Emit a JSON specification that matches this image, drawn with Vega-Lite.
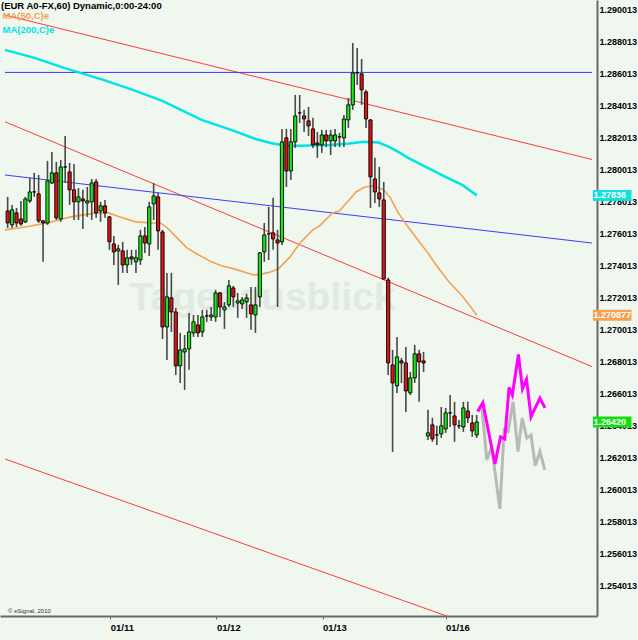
{
  "$schema": "https://vega.github.io/schema/vega-lite/v6.json",
  "width": 597,
  "height": 616,
  "autosize": {"type": "none"},
  "padding": {"left": 0, "top": 0, "right": 41, "bottom": 24},
  "background": "#eff7ef",
  "config": {
    "view": {"stroke": null},
    "font": "Liberation Sans",
    "axis": {"labelOverlap": false, "labelSeparation": 0, "labelBound": false}
  },
  "resolve": {"axis": {"x": "independent", "y": "independent"}},
  "datasets": {
    "candles": [
      {"i":0,"o":1.27739,"h":1.27827,"l":1.27633,"c":1.27664},
      {"i":1,"o":1.27652,"h":1.27777,"l":1.27633,"c":1.27746},
      {"i":2,"o":1.27727,"h":1.27758,"l":1.27639,"c":1.27664},
      {"i":3,"o":1.27689,"h":1.27802,"l":1.27646,"c":1.27658},
      {"i":4,"o":1.27671,"h":1.27827,"l":1.27664,"c":1.27814},
      {"i":5,"o":1.27802,"h":1.27946,"l":1.27789,"c":1.27858},
      {"i":6,"o":1.27858,"h":1.27977,"l":1.27827,"c":1.27858},
      {"i":7,"o":1.27846,"h":1.27964,"l":1.27664,"c":1.27677},
      {"i":8,"o":1.27677,"h":1.27683,"l":1.27421,"c":1.27664},
      {"i":9,"o":1.27664,"h":1.28052,"l":1.27652,"c":1.27927},
      {"i":10,"o":1.27914,"h":1.28108,"l":1.27908,"c":1.27977},
      {"i":11,"o":1.27977,"h":1.28046,"l":1.27683,"c":1.27696},
      {"i":12,"o":1.27689,"h":1.28058,"l":1.27671,"c":1.28014},
      {"i":13,"o":1.28014,"h":1.28208,"l":1.27914,"c":1.28014},
      {"i":14,"o":1.27983,"h":1.28039,"l":1.27777,"c":1.27871},
      {"i":15,"o":1.27871,"h":1.28033,"l":1.27683,"c":1.27796},
      {"i":16,"o":1.27796,"h":1.27883,"l":1.27683,"c":1.27827},
      {"i":17,"o":1.27814,"h":1.27871,"l":1.27627,"c":1.27802},
      {"i":18,"o":1.27789,"h":1.27889,"l":1.27702,"c":1.27802},
      {"i":19,"o":1.27796,"h":1.27939,"l":1.27683,"c":1.27914},
      {"i":20,"o":1.27921,"h":1.27939,"l":1.27696,"c":1.27727},
      {"i":21,"o":1.27739,"h":1.27796,"l":1.27671,"c":1.27771},
      {"i":22,"o":1.27771,"h":1.27808,"l":1.27696,"c":1.27727},
      {"i":23,"o":1.27702,"h":1.27708,"l":1.27496,"c":1.27546},
      {"i":24,"o":1.27533,"h":1.27583,"l":1.27402,"c":1.27483},
      {"i":25,"o":1.27489,"h":1.27527,"l":1.27277,"c":1.27502},
      {"i":26,"o":1.27489,"h":1.27546,"l":1.27352,"c":1.27402},
      {"i":27,"o":1.27402,"h":1.27496,"l":1.27352,"c":1.27446},
      {"i":28,"o":1.27452,"h":1.27496,"l":1.27402,"c":1.27439},
      {"i":29,"o":1.27421,"h":1.27496,"l":1.27352,"c":1.27446},
      {"i":30,"o":1.27433,"h":1.27621,"l":1.27402,"c":1.27583},
      {"i":31,"o":1.27583,"h":1.27639,"l":1.27477,"c":1.27539},
      {"i":32,"o":1.27533,"h":1.27796,"l":1.27458,"c":1.27764},
      {"i":33,"o":1.27783,"h":1.27914,"l":1.27683,"c":1.27833},
      {"i":34,"o":1.27827,"h":1.27852,"l":1.27496,"c":1.27614},
      {"i":35,"o":1.27608,"h":1.27621,"l":1.26939,"c":1.27014},
      {"i":36,"o":1.27014,"h":1.27352,"l":1.26808,"c":1.27202},
      {"i":37,"o":1.27196,"h":1.27352,"l":1.26983,"c":1.27108},
      {"i":38,"o":1.27108,"h":1.27133,"l":1.26714,"c":1.26771},
      {"i":39,"o":1.26771,"h":1.26977,"l":1.26664,"c":1.26871},
      {"i":40,"o":1.26858,"h":1.26964,"l":1.26621,"c":1.26877},
      {"i":41,"o":1.26877,"h":1.27102,"l":1.26746,"c":1.26983},
      {"i":42,"o":1.26977,"h":1.27089,"l":1.26952,"c":1.27046},
      {"i":43,"o":1.27027,"h":1.27089,"l":1.26952,"c":1.26977},
      {"i":44,"o":1.26983,"h":1.27121,"l":1.26952,"c":1.27077},
      {"i":45,"o":1.27083,"h":1.27121,"l":1.27046,"c":1.27083},
      {"i":46,"o":1.27077,"h":1.27139,"l":1.27052,"c":1.27089},
      {"i":47,"o":1.27077,"h":1.27246,"l":1.27046,"c":1.27227},
      {"i":48,"o":1.27227,"h":1.27233,"l":1.27077,"c":1.27139},
      {"i":49,"o":1.27121,"h":1.27171,"l":1.27002,"c":1.27139},
      {"i":50,"o":1.27152,"h":1.27308,"l":1.27139,"c":1.27271},
      {"i":51,"o":1.27258,"h":1.27271,"l":1.27139,"c":1.27202},
      {"i":52,"o":1.27164,"h":1.27227,"l":1.27071,"c":1.27177},
      {"i":53,"o":1.27158,"h":1.27202,"l":1.27127,"c":1.27183},
      {"i":54,"o":1.27171,"h":1.27221,"l":1.27071,"c":1.27196},
      {"i":55,"o":1.27152,"h":1.27264,"l":1.26996,"c":1.27096},
      {"i":56,"o":1.27089,"h":1.27264,"l":1.26977,"c":1.27152},
      {"i":57,"o":1.27202,"h":1.27483,"l":1.27139,"c":1.27477},
      {"i":58,"o":1.27483,"h":1.27664,"l":1.27421,"c":1.27589},
      {"i":59,"o":1.27596,"h":1.27764,"l":1.27433,"c":1.27596},
      {"i":60,"o":1.27602,"h":1.27821,"l":1.27496,"c":1.27564},
      {"i":61,"o":1.27558,"h":1.27621,"l":1.27139,"c":1.27539},
      {"i":62,"o":1.27546,"h":1.28252,"l":1.27527,"c":1.28171},
      {"i":63,"o":1.28196,"h":1.28252,"l":1.27889,"c":1.27989},
      {"i":64,"o":1.27989,"h":1.28252,"l":1.27933,"c":1.28171},
      {"i":65,"o":1.28171,"h":1.28464,"l":1.28133,"c":1.28333},
      {"i":66,"o":1.28352,"h":1.28464,"l":1.28289,"c":1.28352},
      {"i":67,"o":1.28333,"h":1.28371,"l":1.28233,"c":1.28314},
      {"i":68,"o":1.28302,"h":1.28389,"l":1.28208,"c":1.28271},
      {"i":69,"o":1.28252,"h":1.28321,"l":1.28133,"c":1.28152},
      {"i":70,"o":1.28164,"h":1.28233,"l":1.28071,"c":1.28152},
      {"i":71,"o":1.28152,"h":1.28246,"l":1.28102,"c":1.28214},
      {"i":72,"o":1.28214,"h":1.28246,"l":1.28139,"c":1.28177},
      {"i":73,"o":1.28177,"h":1.28246,"l":1.28089,"c":1.28214},
      {"i":74,"o":1.28177,"h":1.28252,"l":1.28139,"c":1.28214},
      {"i":75,"o":1.28202,"h":1.28227,"l":1.28139,"c":1.28202},
      {"i":76,"o":1.28196,"h":1.28339,"l":1.28139,"c":1.28314},
      {"i":77,"o":1.28308,"h":1.28446,"l":1.28258,"c":1.28402},
      {"i":78,"o":1.28402,"h":1.28789,"l":1.28371,"c":1.28602},
      {"i":79,"o":1.28602,"h":1.28758,"l":1.28527,"c":1.28602},
      {"i":80,"o":1.28596,"h":1.28689,"l":1.28402,"c":1.28496},
      {"i":81,"o":1.28483,"h":1.28496,"l":1.28258,"c":1.28314},
      {"i":82,"o":1.28308,"h":1.28314,"l":1.27758,"c":1.27952},
      {"i":83,"o":1.27939,"h":1.28071,"l":1.27789,"c":1.27858},
      {"i":84,"o":1.27852,"h":1.28014,"l":1.27764,"c":1.27814},
      {"i":85,"o":1.27808,"h":1.27921,"l":1.27308,"c":1.27314},
      {"i":86,"o":1.27308,"h":1.27321,"l":1.26714,"c":1.26789},
      {"i":87,"o":1.26777,"h":1.26871,"l":1.26233,"c":1.26664},
      {"i":88,"o":1.26646,"h":1.26952,"l":1.26602,"c":1.26827},
      {"i":89,"o":1.26802,"h":1.26821,"l":1.26664,"c":1.26789},
      {"i":90,"o":1.26789,"h":1.26889,"l":1.26483,"c":1.26614},
      {"i":91,"o":1.26602,"h":1.26733,"l":1.26589,"c":1.26696},
      {"i":92,"o":1.26696,"h":1.26902,"l":1.26664,"c":1.26846},
      {"i":93,"o":1.26846,"h":1.26871,"l":1.26546,"c":1.26796},
      {"i":94,"o":1.26802,"h":1.26858,"l":1.26733,"c":1.26789},
      {"i":95,"o":1.26333,"h":1.26496,"l":1.26308,"c":1.26352},
      {"i":96,"o":1.26402,"h":1.26446,"l":1.26296,"c":1.26314},
      {"i":97,"o":1.26339,"h":1.26396,"l":1.26277,"c":1.26339},
      {"i":98,"o":1.26346,"h":1.26514,"l":1.26321,"c":1.26396},
      {"i":99,"o":1.26377,"h":1.26508,"l":1.26352,"c":1.26477},
      {"i":100,"o":1.26477,"h":1.26589,"l":1.26389,"c":1.26477},
      {"i":101,"o":1.26458,"h":1.26546,"l":1.26296,"c":1.26402},
      {"i":102,"o":1.26396,"h":1.26433,"l":1.26377,"c":1.26396},
      {"i":103,"o":1.26389,"h":1.26546,"l":1.26358,"c":1.26508},
      {"i":104,"o":1.26489,"h":1.26546,"l":1.26414,"c":1.26446},
      {"i":105,"o":1.26414,"h":1.26464,"l":1.26327,"c":1.26364},
      {"i":106,"o":1.26339,"h":1.26464,"l":1.26321,"c":1.2642}
    ],
    "ma50": [
      {"s":"MA(50,C)e","i":-0.6,"v":1.27621},{"s":"MA(50,C)e","i":3.84,"v":1.27639},
      {"s":"MA(50,C)e","i":8.96,"v":1.27664},{"s":"MA(50,C)e","i":14.29,"v":1.27702},
      {"s":"MA(50,C)e","i":20.07,"v":1.27727},{"s":"MA(50,C)e","i":22.73,"v":1.27727},
      {"s":"MA(50,C)e","i":25.4,"v":1.27702},{"s":"MA(50,C)e","i":28.96,"v":1.27671},
      {"s":"MA(50,C)e","i":32.73,"v":1.27664},{"s":"MA(50,C)e","i":34.51,"v":1.27664},
      {"s":"MA(50,C)e","i":36.07,"v":1.27633},{"s":"MA(50,C)e","i":38.29,"v":1.27571},
      {"s":"MA(50,C)e","i":40.51,"v":1.27508},{"s":"MA(50,C)e","i":43.18,"v":1.27464},
      {"s":"MA(50,C)e","i":46.07,"v":1.27421},{"s":"MA(50,C)e","i":48.29,"v":1.27396},
      {"s":"MA(50,C)e","i":51.18,"v":1.27377},{"s":"MA(50,C)e","i":55.62,"v":1.27339},
      {"s":"MA(50,C)e","i":57.62,"v":1.27346},{"s":"MA(50,C)e","i":59.4,"v":1.27358},
      {"s":"MA(50,C)e","i":61.18,"v":1.27377},{"s":"MA(50,C)e","i":62.73,"v":1.27421},
      {"s":"MA(50,C)e","i":63.84,"v":1.27452},{"s":"MA(50,C)e","i":66.07,"v":1.27539},
      {"s":"MA(50,C)e","i":68.96,"v":1.27621},{"s":"MA(50,C)e","i":70.51,"v":1.27646},
      {"s":"MA(50,C)e","i":73.4,"v":1.27727},{"s":"MA(50,C)e","i":74.96,"v":1.27739},
      {"s":"MA(50,C)e","i":77.18,"v":1.27808},{"s":"MA(50,C)e","i":78.73,"v":1.27858},
      {"s":"MA(50,C)e","i":80.73,"v":1.27889},{"s":"MA(50,C)e","i":82.73,"v":1.27896},
      {"s":"MA(50,C)e","i":84.96,"v":1.27871},{"s":"MA(50,C)e","i":86.51,"v":1.27821},
      {"s":"MA(50,C)e","i":88.29,"v":1.27727},{"s":"MA(50,C)e","i":90.51,"v":1.27639},
      {"s":"MA(50,C)e","i":92.73,"v":1.27558},{"s":"MA(50,C)e","i":94.96,"v":1.27477},
      {"s":"MA(50,C)e","i":97.18,"v":1.27389},{"s":"MA(50,C)e","i":99.4,"v":1.27308},
      {"s":"MA(50,C)e","i":102.73,"v":1.27208},{"s":"MA(50,C)e","i":106.07,"v":1.270877}
    ],
    "ma200": [
      {"s":"MA(200,C)e","i":-0.6,"v":1.28746},{"s":"MA(200,C)e","i":6.07,"v":1.28696},
      {"s":"MA(200,C)e","i":12.73,"v":1.28633},{"s":"MA(200,C)e","i":21.62,"v":1.28558},
      {"s":"MA(200,C)e","i":28.29,"v":1.28496},{"s":"MA(200,C)e","i":34.96,"v":1.28427},
      {"s":"MA(200,C)e","i":43.84,"v":1.28308},{"s":"MA(200,C)e","i":50.51,"v":1.28246},
      {"s":"MA(200,C)e","i":56.07,"v":1.28189},{"s":"MA(200,C)e","i":59.4,"v":1.28164},
      {"s":"MA(200,C)e","i":62.73,"v":1.28146},{"s":"MA(200,C)e","i":66.07,"v":1.28146},
      {"s":"MA(200,C)e","i":72.73,"v":1.28152},{"s":"MA(200,C)e","i":77.18,"v":1.28161},
      {"s":"MA(200,C)e","i":80.51,"v":1.28172},{"s":"MA(200,C)e","i":83.84,"v":1.28167},
      {"s":"MA(200,C)e","i":86.07,"v":1.28141},{"s":"MA(200,C)e","i":88.29,"v":1.28108},
      {"s":"MA(200,C)e","i":90.51,"v":1.28071},{"s":"MA(200,C)e","i":94.96,"v":1.28008},
      {"s":"MA(200,C)e","i":99.4,"v":1.27946},{"s":"MA(200,C)e","i":102.73,"v":1.27902},
      {"s":"MA(200,C)e","i":106.07,"v":1.27836}
    ],
    "projGray": [
      {"i":106.3,"v":1.26485},{"i":107.18,"v":1.26516},{"i":108.29,"v":1.26183},
      {"i":109.4,"v":1.26266},{"i":111.24,"v":1.25877},{"i":112.22,"v":1.26371},
      {"i":113.11,"v":1.2636},{"i":114.22,"v":1.26547},{"i":115.33,"v":1.26235},
      {"i":116.29,"v":1.26444},{"i":117.33,"v":1.26319},{"i":118.29,"v":1.26339},
      {"i":119.24,"v":1.26146},{"i":120.29,"v":1.26235},{"i":121.4,"v":1.26121}
    ],
    "projMagenta": [
      {"i":106.2,"v":1.26485},{"i":107.4,"v":1.26541},{"i":110.13,"v":1.26158},
      {"i":111.4,"v":1.26327},{"i":112.36,"v":1.26314},{"i":113.33,"v":1.26637},
      {"i":114.07,"v":1.26589},{"i":115.44,"v":1.26842},{"i":116.36,"v":1.26627},
      {"i":117.27,"v":1.26687},{"i":118.29,"v":1.26452},{"i":120.29,"v":1.26569},
      {"i":121.44,"v":1.26508}
    ],
    "redLines": [
      {"id":1,"i":-0.6,"v":1.289638},{"id":1,"i":132.07,"v":1.280607},
      {"id":2,"i":-0.6,"v":1.282963},{"id":2,"i":132.07,"v":1.267663},
      {"id":3,"i":-0.6,"v":1.261888},{"id":3,"i":100.5,"v":1.25195}
    ],
    "blueLines": [
      {"id":1,"i":-0.6,"v":1.28605},{"id":1,"i":132.07,"v":1.28605},
      {"id":2,"i":-0.6,"v":1.279638},{"id":2,"i":132.07,"v":1.275388}
    ],
    "badges": [
      {"k":"ma200","lab":"1.27836","v":1.27836},
      {"k":"ma50","lab":"1.270877","v":1.270877},
      {"k":"last","lab":"1.26420","v":1.2642}
    ],
    "notes": [
      {"txt":"Tagesausblick"}
    ],
    "credit": [
      {"txt":"© eSignal, 2010"}
    ]
  },
  "layer": [
    {
      "data": {"name": "notes"},
      "mark": {"type": "text", "font": "Liberation Sans", "fontWeight": "bold", "fontSize": 39, "color": "#e0eae0", "align": "center", "baseline": "middle"},
      "encoding": {
        "x": {"datum": 57.6, "type": "quantitative", "axis": null, "scale": {"domain": [-0.6, 132.07], "nice": false, "zero": false}},
        "y": {"datum": 1.27195, "type": "quantitative", "axis": null, "scale": {"domain": [1.2520755, 1.2905755], "nice": false, "zero": false}},
        "text": {"field": "txt"}
      }
    },
    {
      "data": {"name": "redLines"},
      "mark": {"type": "line", "color": "#ff3c3c", "strokeWidth": 1, "clip": true},
      "encoding": {
        "x": {"field": "i", "type": "quantitative", "axis": null, "scale": {"domain": [-0.6, 132.07], "nice": false, "zero": false}},
        "y": {"field": "v", "type": "quantitative", "axis": null, "scale": {"domain": [1.2520755, 1.2905755], "nice": false, "zero": false}},
        "detail": {"field": "id"}
      }
    },
    {
      "data": {"name": "blueLines"},
      "mark": {"type": "line", "color": "#3c3cff", "strokeWidth": 1, "clip": true},
      "encoding": {
        "x": {"field": "i", "type": "quantitative", "axis": null, "scale": {"domain": [-0.6, 132.07], "nice": false, "zero": false}},
        "y": {"field": "v", "type": "quantitative", "axis": null, "scale": {"domain": [1.2520755, 1.2905755], "nice": false, "zero": false}},
        "detail": {"field": "id"}
      }
    },
    {
      "data": {"name": "ma50"},
      "mark": {"type": "line", "strokeWidth": 1.6},
      "encoding": {
        "x": {"field": "i", "type": "quantitative", "axis": null, "scale": {"domain": [-0.6, 132.07], "nice": false, "zero": false}},
        "y": {"field": "v", "type": "quantitative", "axis": null, "scale": {"domain": [1.2520755, 1.2905755], "nice": false, "zero": false}},
        "color": {
          "field": "s", "type": "nominal",
          "scale": {"domain": ["MA(50,C)e", "MA(200,C)e"], "range": ["#f4a252", "#00e4e4"]},
          "legend": {
            "orient": "none", "legendX": 1, "legendY": 1,
            "title": "(EUR A0-FX,60) Dynamic,0:00-24:00",
            "titleFont": "Liberation Sans", "titleFontSize": 9.5, "titleFontWeight": "bold", "titleColor": "#000000",
            "titlePadding": 1, "titleLimit": 400,
            "labelFont": "Liberation Sans", "labelFontSize": 9.5, "labelFontWeight": "bold",
            "labelOffset": -8, "symbolType": "circle", "symbolSize": 0.01, "symbolOpacity": 0, "symbolStrokeWidth": 0,
            "rowPadding": 2.5, "padding": 0, "labelLimit": 200,
            "encode": {"labels": {"update": {"fill": {"signal": "datum.value == 'MA(50,C)e' ? '#f4a252' : '#00e4e4'"}}}}
          }
        }
      }
    },
    {
      "data": {"name": "ma200"},
      "mark": {"type": "line", "strokeWidth": 2.5},
      "encoding": {
        "x": {"field": "i", "type": "quantitative", "axis": null, "scale": {"domain": [-0.6, 132.07], "nice": false, "zero": false}},
        "y": {"field": "v", "type": "quantitative", "axis": null, "scale": {"domain": [1.2520755, 1.2905755], "nice": false, "zero": false}},
        "color": {
          "field": "s", "type": "nominal",
          "scale": {"domain": ["MA(50,C)e", "MA(200,C)e"], "range": ["#f4a252", "#00e4e4"]},
          "legend": {
            "orient": "none", "legendX": 1, "legendY": 1,
            "title": "(EUR A0-FX,60) Dynamic,0:00-24:00",
            "titleFont": "Liberation Sans", "titleFontSize": 9.5, "titleFontWeight": "bold", "titleColor": "#000000",
            "titlePadding": 1, "titleLimit": 400,
            "labelFont": "Liberation Sans", "labelFontSize": 9.5, "labelFontWeight": "bold",
            "labelOffset": -8, "symbolType": "circle", "symbolSize": 0.01, "symbolOpacity": 0, "symbolStrokeWidth": 0,
            "rowPadding": 2.5, "padding": 0, "labelLimit": 200,
            "encode": {"labels": {"update": {"fill": {"signal": "datum.value == 'MA(50,C)e' ? '#f4a252' : '#00e4e4'"}}}}
          }
        }
      }
    },
    {
      "data": {"name": "projGray"},
      "mark": {"type": "line", "color": "#b9b9b9", "strokeWidth": 3},
      "encoding": {
        "x": {"field": "i", "type": "quantitative", "axis": null, "scale": {"domain": [-0.6, 132.07], "nice": false, "zero": false}},
        "y": {"field": "v", "type": "quantitative", "axis": null, "scale": {"domain": [1.2520755, 1.2905755], "nice": false, "zero": false}}
      }
    },
    {
      "data": {"name": "projMagenta"},
      "mark": {"type": "line", "color": "#ff00ff", "strokeWidth": 3},
      "encoding": {
        "x": {"field": "i", "type": "quantitative", "axis": null, "scale": {"domain": [-0.6, 132.07], "nice": false, "zero": false}},
        "y": {"field": "v", "type": "quantitative", "axis": null, "scale": {"domain": [1.2520755, 1.2905755], "nice": false, "zero": false}}
      }
    },
    {
      "data": {"name": "candles"},
      "mark": {"type": "rule", "color": "#484848", "strokeWidth": 1.6},
      "encoding": {
        "x": {
          "field": "i", "type": "quantitative", "title": null,
          "scale": {"domain": [-0.6, 132.07], "nice": false, "zero": false},
          "axis": {
            "values": [23.18, 47.18, 71.18, 98.96],
            "labelExpr": "datum.value < 30 ? '01/11' : datum.value < 60 ? '01/12' : datum.value < 80 ? '01/13' : '01/16'",
            "labelAlign": "left", "labelFont": "Liberation Sans", "labelFontWeight": "bold",
            "labelFontSize": 9.5, "labelColor": "#000000", "labelPadding": 3,
            "tickSize": 3, "tickColor": "#6a6a6a", "domainColor": "#6a6a6a", "domainWidth": 2,
            "grid": false, "labelFlush": false, "labelOverlap": false
          }
        },
        "y": {
          "field": "l", "type": "quantitative", "title": null,
          "scale": {"domain": [1.2520755, 1.2905755], "nice": false, "zero": false},
          "axis": {
            "orient": "right",
            "values": [1.254013, 1.256013, 1.258013, 1.260013, 1.262013, 1.264013, 1.266013, 1.268013, 1.270013, 1.272013, 1.274013, 1.276013, 1.278013, 1.280013, 1.282013, 1.284013, 1.286013, 1.288013, 1.290013],
            "format": ".6f", "labelFont": "Liberation Sans", "labelFontWeight": "bold", "labelFontSize": 9,
            "labelColor": "#000000", "ticks": false, "labelPadding": 2, "domainColor": "#6a6a6a", "domainWidth": 2,
            "grid": false, "labelOverlap": false, "labelBound": false, "labelFlush": false, "labelSeparation": 0
          }
        },
        "y2": {"field": "h"}
      }
    },
    {
      "data": {"name": "candles"},
      "mark": {"type": "bar", "size": 3.2, "stroke": "#000000", "strokeWidth": 0.9},
      "encoding": {
        "x": {"field": "i", "type": "quantitative", "axis": null, "scale": {"domain": [-0.6, 132.07], "nice": false, "zero": false}},
        "y": {"field": "o", "type": "quantitative", "axis": null, "scale": {"domain": [1.2520755, 1.2905755], "nice": false, "zero": false}},
        "y2": {"field": "c"},
        "fill": {"condition": {"test": "datum.c >= datum.o", "value": "#19e619"}, "value": "#e01414"}
      }
    },
    {
      "data": {"name": "credit"},
      "mark": {"type": "text", "font": "Liberation Sans", "fontSize": 6, "color": "#333333", "align": "left", "baseline": "middle"},
      "encoding": {
        "x": {"datum": 0.1, "type": "quantitative", "axis": null, "scale": {"domain": [-0.6, 132.07], "nice": false, "zero": false}},
        "y": {"datum": 1.25239, "type": "quantitative", "axis": null, "scale": {"domain": [1.2520755, 1.2905755], "nice": false, "zero": false}},
        "text": {"field": "txt"}
      }
    },
    {
      "data": {"name": "badges"},
      "mark": {"type": "point", "shape": "M0,-0.5L3.5,-0.5L3.5,0.5L0,0.5Z", "size": 484, "filled": true, "opacity": 1, "strokeWidth": 0},
      "encoding": {
        "x": {"datum": 132.29, "type": "quantitative", "axis": null, "scale": {"domain": [-0.6, 132.07], "nice": false, "zero": false}},
        "y": {"field": "v", "type": "quantitative", "axis": null, "scale": {"domain": [1.2520755, 1.2905755], "nice": false, "zero": false}},
        "fill": {"condition": [{"test": "datum.k == 'ma200'", "value": "#10e0e0"}, {"test": "datum.k == 'ma50'", "value": "#f4a252"}], "value": "#10e010"}
      }
    },
    {
      "data": {"name": "badges"},
      "mark": {"type": "text", "font": "Liberation Sans", "fontWeight": "bold", "fontSize": 9, "color": "#ffffff", "align": "left", "baseline": "middle"},
      "encoding": {
        "x": {"datum": 132.4, "type": "quantitative", "axis": null, "scale": {"domain": [-0.6, 132.07], "nice": false, "zero": false}},
        "y": {"field": "v", "type": "quantitative", "axis": null, "scale": {"domain": [1.2520755, 1.2905755], "nice": false, "zero": false}},
        "text": {"field": "lab"}
      }
    }
  ]
}
